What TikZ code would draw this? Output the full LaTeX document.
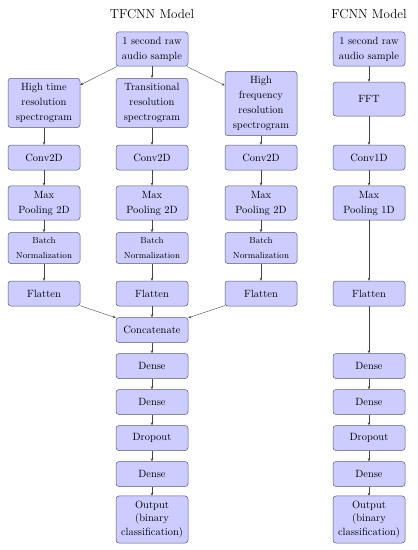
\documentclass[tikz,border=0pt]{standalone}
\usetikzlibrary{arrows.meta}
\definecolor{layerfill}{HTML}{CCCCFF}
\definecolor{layeredge}{HTML}{5A5A6E}
\definecolor{arrowgray}{HTML}{444444}

\begin{document}
\begin{tikzpicture}[x=1pt,y=-1pt,>={Stealth[length=3pt,width=2.6pt]},
  layer/.style={draw=layeredge,fill=layerfill,rounded corners=3pt,line width=0.5pt,
    text width=66pt,align=center,minimum height=25pt,inner xsep=3pt,inner ysep=5pt,
    font=\fontsize{10.5}{15}\selectfont},
  smalllayer/.style={layer,font=\fontsize{8.8}{15}\selectfont,minimum height=30pt},
  title/.style={font=\fontsize{13}{15}\selectfont},
  link/.style={->,arrowgray,line width=0.4pt}]

  \useasboundingbox (0,0) rectangle (418,550);

  % ===== TFCNN MODEL =====
  \node[title] (tftitle) at (152,14) {TFCNN Model};
  \node[layer] (raw) at (152,49) {1 second raw\\audio sample};
  \node[layer] (speca) at (44,103) {High time\\resolution\\spectrogram};
  \node[layer] (specb) at (152,103) {Transitional\\resolution\\spectrogram};
  \node[layer] (specc) at (261,103.5) {High\\frequency\\resolution\\spectrogram};
  \foreach \c/\x in {a/44,b/152,c/261} {
    \node[layer] (conv\c) at (\x,157.5) {Conv2D};
    \node[layer] (pool\c) at (\x,203) {Max\\Pooling 2D};
    \node[smalllayer] (batch\c) at (\x,248) {Batch\\Normalization};
    \node[layer] (flat\c) at (\x,293.5) {Flatten};
    \draw[link] (raw) -- (spec\c);
    \draw[link] (spec\c) -- (conv\c);
    \draw[link] (conv\c) -- (pool\c);
    \draw[link] (pool\c) -- (batch\c);
    \draw[link] (batch\c) -- (flat\c);
  }
  \node[layer] (concat) at (152,330) {Concatenate};
  \foreach \c in {a,b,c}
    \draw[link] (flat\c) -- (concat);
  \node[layer] (densea) at (152,366) {Dense};
  \node[layer] (denseb) at (152,402) {Dense};
  \node[layer] (drop) at (152,438) {Dropout};
  \node[layer] (densec) at (152,474) {Dense};
  \node[layer,font=\fontsize{10.5}{13.5}\selectfont] (out) at (152,519.5)
        {Output\\(binary\\classification)};
  \draw[link] (concat) -- (densea);
  \draw[link] (densea) -- (denseb);
  \draw[link] (denseb) -- (drop);
  \draw[link] (drop) -- (densec);
  \draw[link] (densec) -- (out);

  % ===== FCNN MODEL =====
  \node[title] (fctitle) at (369,14) {FCNN Model};
  \node[layer] (fraw) at (369,49) {1 second raw\\audio sample};
  \node[layer,minimum height=34pt] (fft) at (369,99) {FFT};
  \node[layer] (fconv) at (369,157.5) {Conv1D};
  \node[layer] (fpool) at (369,203) {Max\\Pooling 1D};
  \node[layer] (fflat) at (369,293.5) {Flatten};
  \node[layer] (fdensea) at (369,366) {Dense};
  \node[layer] (fdenseb) at (369,402) {Dense};
  \node[layer] (fdrop) at (369,438) {Dropout};
  \node[layer] (fdensec) at (369,474) {Dense};
  \node[layer,font=\fontsize{10.5}{13.5}\selectfont] (fout) at (369,519.5)
        {Output\\(binary\\classification)};
  \draw[link] (fraw) -- (fft);
  \draw[link] (fft) -- (fconv);
  \draw[link] (fconv) -- (fpool);
  \draw[link] (fpool) -- (fflat);
  \draw[link] (fflat) -- (fdensea);
  \draw[link] (fdensea) -- (fdenseb);
  \draw[link] (fdenseb) -- (fdrop);
  \draw[link] (fdrop) -- (fdensec);
  \draw[link] (fdensec) -- (fout);

\end{tikzpicture}
\end{document}
